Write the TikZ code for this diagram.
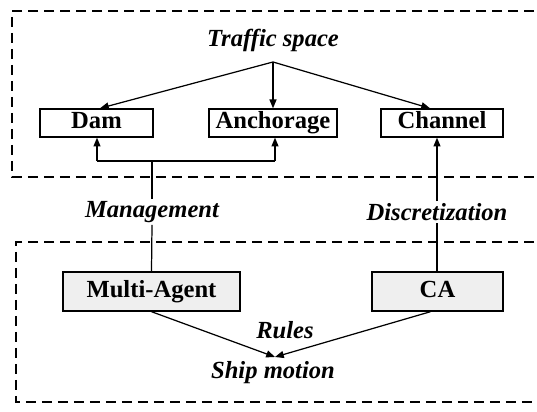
\documentclass[tikz,border=0pt]{standalone}
\usepackage{fontspec}
\setmainfont{Liberation Serif}
\usetikzlibrary{arrows.meta}
\definecolor{box_gray}{HTML}{EFEFEF}

\begin{document}
\begin{tikzpicture}[
    every node/.style={font=\fontsize{14}{16}\selectfont\bfseries},
    label_text/.style={font=\fontsize{14}{16}\selectfont\bfseries\itshape, inner sep=1pt},
    place_box/.style={draw, line width=0.8pt, minimum height=0.56cm, inner sep=0pt,
        text height=1.45ex, text depth=0pt},
    model_box/.style={draw, fill=box_gray, line width=0.8pt, minimum height=0.78cm, inner sep=0pt,
        text height=1.45ex, text depth=0pt},
    region/.style={dashed, dash pattern=on 0.2cm off 0.12cm, line width=0.8pt},
    link/.style={line width=0.7pt, -{Triangle[length=5pt,width=4pt]}},
]
\useasboundingbox (0,0) rectangle (10.74,8.24);

% ── Dashed regions ───────────────────────────────────────────────────────────
\draw[region] (11,8.02) -- (0.24,8.02) -- (0.24,4.70) -- (11,4.70);
\draw[region] (11,3.40) -- (0.32,3.40) -- (0.32,0.20) -- (11,0.20);

% ── Traffic space ─────────────────────────────────────────────────────────────
\node[label_text] (space) at (5.46,7.44) {Traffic space};
\coordinate (split) at (5.46,7.00);

\node[place_box, minimum width=2.26cm] (dam)     at (1.93,5.78) {Dam};
\node[place_box, minimum width=2.56cm] (anchor)  at (5.46,5.78) {Anchorage};
\node[place_box, minimum width=2.44cm] (channel) at (8.84,5.78) {Channel};

\draw[link] (split) -- ([xshift=0.07cm]dam.north);
\draw[link] (split) -- (anchor.north);
\draw[link] (split) -- ([xshift=-0.24cm]channel.north);

% ── Models ───────────────────────────────────────────────────────────────────
\node[label_text] (mgmt)  at (3.04,4.00) {Management};
\node[label_text] (discr) at (8.74,4.00) {Discretization};

\node[model_box, minimum width=3.54cm] (agent) at (3.03,2.41) {Multi-Agent};
\node[model_box, minimum width=2.62cm] (ca)    at (8.75,2.41) {CA};

\coordinate (fork)  at (3.04,5.02);
\coordinate (forkl) at (1.94,5.02);
\coordinate (forkr) at (5.50,5.02);

\draw[line width=0.7pt] (agent.north) -- (mgmt.south);
\draw[line width=0.7pt] (mgmt.north) -- (fork);
\draw[line width=0.7pt] (forkl) -- (forkr);
\draw[link] (forkl) -- (forkl |- dam.south);
\draw[link] (forkr) -- (forkr |- anchor.south);

\draw[line width=0.7pt] (ca.north -| discr) -- (discr.south);
\draw[link] (discr.north) -- (discr.north |- channel.south);

% ── Ship motion ──────────────────────────────────────────────────────────────
\node[label_text] (rules) at (5.70,1.64) {Rules};
\node[label_text] (ship)  at (5.46,0.78) {Ship motion};
\coordinate (hit) at (5.50,1.10);

\draw[link] (agent.south) -- (hit);
\draw[link] ([xshift=-0.14cm]ca.south) -- (hit);

\end{tikzpicture}
\end{document}
